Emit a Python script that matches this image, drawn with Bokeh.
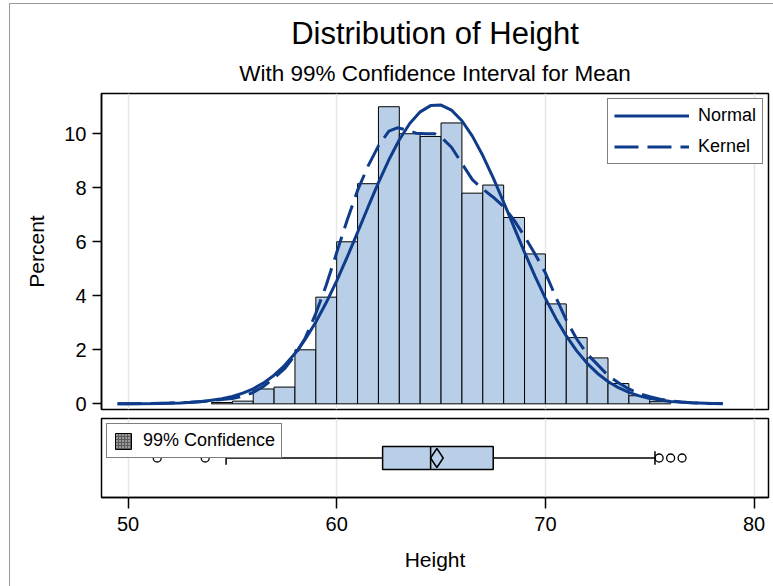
from bokeh.plotting import figure
from bokeh.layouts import column
from bokeh.models import (Title, Legend, LegendItem, Range1d, FixedTicker, Grid)
from bokeh.embed import file_html
from bokeh.resources import INLINE

FONT = "Liberation Sans"
CURVE = "#0E3C8A"
BAR_FILL = "#B9CFE7"

# ---------------- data ----------------
bin_left = [54, 55, 56, 57, 58, 59, 60, 61, 62, 63, 64, 65, 66, 67, 68, 69, 70, 71, 72, 73, 74, 75]
bin_pct = [0.05, 0.1, 0.55, 0.62, 2.0, 3.95, 6.0, 8.15, 11.0, 10.0, 9.9, 10.4,
           7.8, 8.1, 6.9, 5.55, 3.7, 2.45, 1.7, 0.75, 0.3, 0.08]
bin_width = 1

normal_x = [49.5, 50.5, 51.5, 52.5, 53.5, 54.5, 55, 55.5, 56, 56.5, 57, 57.5, 58, 58.5,
            59, 59.5, 60, 60.5, 61, 61.5, 62, 62.5, 63, 63.5, 64, 64.5, 65, 65.5, 66,
            66.5, 67, 67.5, 68, 68.5, 69, 69.5, 70, 70.5, 71, 71.5, 72, 72.5, 73, 73.5,
            74, 74.5, 75, 76, 77, 78, 78.5]
normal_y = [0.001, 0.004, 0.012, 0.032, 0.08, 0.185, 0.272, 0.394, 0.558, 0.776, 1.06,
            1.418, 1.861, 2.397, 3.026, 3.749, 4.555, 5.429, 6.348, 7.28, 8.188, 9.035,
            9.778, 10.381, 10.81, 11.042, 11.063, 10.873, 10.482, 9.911, 9.193, 8.363,
            7.464, 6.534, 5.61, 4.725, 3.904, 3.163, 2.514, 1.96, 1.5, 1.125, 0.828,
            0.597, 0.423, 0.294, 0.2, 0.088, 0.036, 0.013, 0.008]

kernel_x = [49.5, 50, 51, 52, 53, 54, 55, 55.5, 56, 56.5, 57, 57.5, 58, 58.5, 59, 59.5,
            60, 60.5, 61, 61.5, 62, 62.5, 62.9, 63.3, 63.8, 64.3, 64.7, 65.1, 65.5, 66,
            66.5, 67, 67.5, 68, 68.5, 69, 69.5, 70, 70.5, 71, 71.5, 72, 72.5, 73, 73.5,
            74, 74.5, 75, 75.5, 76, 76.5, 77, 77.5, 78, 78.5]
kernel_y = [0.0, 0.005, 0.015, 0.03, 0.06, 0.12, 0.2, 0.28, 0.42, 0.65, 0.95, 1.3, 1.8,
            2.45, 3.35, 4.4, 5.6, 6.8, 7.9, 8.8, 9.55, 10.1, 10.22, 10.15, 10.02, 10.0,
            10.0, 9.8, 9.5, 8.9, 8.3, 7.95, 7.65, 7.3, 6.8, 6.2, 5.55, 4.85, 3.95, 3.1,
            2.4, 1.85, 1.45, 1.05, 0.78, 0.55, 0.38, 0.26, 0.17, 0.11, 0.07, 0.04, 0.02,
            0.01, 0.0]

box_q1 = 62.2
box_median = 64.5
box_q3 = 67.5
box_mean = 64.8
whisker_lo = 54.7
whisker_hi = 75.25
outliers = [51.4, 53.7, 75.45, 76.0, 76.55]
ci_lower = 64.5
ci_upper = 65.1

x_ticks = [50, 60, 70, 80]
y_ticks = [0, 2, 4, 6, 8, 10]

title_text = "Distribution of Height"
subtitle_text = "With 99% Confidence Interval for Mean"

# ---------------- layout constants ----------------
X_RANGE = Range1d(48.73, 80.69)
BOX_HALF = 0.29
CAP_HALF = 0.17

# ---------------- top panel: histogram ----------------
p1 = figure(width=763, height=413, x_range=X_RANGE, y_range=Range1d(-0.21, 11.49),
            output_backend="svg", toolbar_location=None, x_axis_location=None,
            title=None,
            min_border_left=91, min_border_right=5, min_border_top=89, min_border_bottom=8)
p1.outline_line_color = "black"
p1.outline_line_width = 1.5
p1.xgrid.visible = False
p1.ygrid.visible = False
p1.add_layout(Grid(dimension=0, ticker=FixedTicker(ticks=x_ticks),
                   grid_line_color="#e6e6e6", grid_line_width=1.5))

p1.add_layout(Title(text=subtitle_text, align="center", text_font=FONT,
                    text_font_size="22.5px", text_font_style="normal",
                    text_color="black", standoff=15), "above")
p1.add_layout(Title(text=title_text, align="center", text_font=FONT,
                    text_font_size="31px", text_font_style="normal",
                    text_color="black", standoff=2), "above")

ya = p1.yaxis[0]
ya.ticker = FixedTicker(ticks=y_ticks)
ya.major_tick_out = 9
ya.major_tick_in = 0
ya.minor_tick_line_color = None
ya.major_tick_line_width = 1.5
ya.axis_line_width = 1.5
ya.major_label_text_font = FONT
ya.major_label_text_font_size = "20px"
ya.major_label_text_color = "black"
ya.major_label_standoff = 6
ya.axis_label = "Percent"
ya.axis_label_text_font = FONT
ya.axis_label_text_font_size = "21px"
ya.axis_label_text_font_style = "normal"
ya.axis_label_text_color = "black"
ya.axis_label_standoff = 13

bin_right = [b + bin_width for b in bin_left]
p1.quad(left=bin_left, right=bin_right, bottom=0, top=bin_pct,
        fill_color=BAR_FILL, line_color="black", line_width=1)

r_norm = p1.line(normal_x, normal_y, line_width=3, line_color=CURVE)
r_kern = p1.line(kernel_x, kernel_y, line_width=3, line_color=CURVE, line_dash="24 9")

leg1 = Legend(items=[LegendItem(label="Normal", renderers=[r_norm]),
                     LegendItem(label="Kernel", renderers=[r_kern])],
              location="top_right", margin=5, padding=6, spacing=10,
              glyph_width=75, glyph_height=21, label_height=21, label_standoff=9,
              label_text_font=FONT, label_text_font_size="18px", label_text_color="black",
              border_line_color="black", border_line_width=1.5,
              background_fill_alpha=1.0)
p1.add_layout(leg1)

# ---------------- bottom panel: box plot ----------------
p2 = figure(width=763, height=169, x_range=X_RANGE, y_range=Range1d(-1, 1),
            output_backend="svg", toolbar_location=None, y_axis_location=None,
            min_border_left=91, min_border_right=5, min_border_top=1, min_border_bottom=89)
p2.outline_line_color = "black"
p2.outline_line_width = 1.5
p2.ygrid.visible = False
p2.xgrid.visible = False
p2.add_layout(Grid(dimension=0, ticker=FixedTicker(ticks=x_ticks),
                   grid_line_color="#e6e6e6", grid_line_width=1.5))

xa = p2.xaxis[0]
xa.ticker = FixedTicker(ticks=x_ticks)
xa.major_tick_out = 11
xa.major_tick_in = 0
xa.minor_tick_line_color = None
xa.major_tick_line_width = 1.5
xa.axis_line_width = 1.5
xa.major_label_text_font = FONT
xa.major_label_text_font_size = "20px"
xa.major_label_text_color = "black"
xa.major_label_standoff = 8
xa.axis_label = "Height"
xa.axis_label_text_font = FONT
xa.axis_label_text_font_size = "21px"
xa.axis_label_text_font_style = "normal"
xa.axis_label_text_color = "black"
xa.axis_label_standoff = 14

r_ci = p2.quad(left=[ci_lower], right=[ci_upper], bottom=[-BOX_HALF], top=[BOX_HALF],
               fill_color="#9a9a9a", hatch_pattern="cross", hatch_color="#5a5a5a",
               hatch_scale=3, hatch_weight=1, line_color="black", line_width=1)

p2.segment(x0=[whisker_lo, box_q3], y0=[0, 0], x1=[box_q1, whisker_hi], y1=[0, 0],
           line_color="black", line_width=1.5)
p2.segment(x0=[whisker_lo, whisker_hi], y0=[-CAP_HALF, -CAP_HALF],
           x1=[whisker_lo, whisker_hi], y1=[CAP_HALF, CAP_HALF],
           line_color="black", line_width=1.5)
p2.quad(left=[box_q1], right=[box_q3], bottom=[-BOX_HALF], top=[BOX_HALF],
        fill_color=BAR_FILL, line_color="black", line_width=1.5)
p2.segment(x0=[box_median], y0=[-BOX_HALF], x1=[box_median], y1=[BOX_HALF],
           line_color="black", line_width=1.5)
p2.scatter([box_mean], [0], marker="diamond", size=19, fill_color=None,
           line_color="black", line_width=1.5)
p2.scatter(outliers, [0] * len(outliers), marker="circle", size=8, fill_color=None,
           line_color="black", line_width=1.3)

leg2 = Legend(items=[LegendItem(label="99% Confidence", renderers=[r_ci])],
              location="top_left", margin=5, padding=6, spacing=0,
              glyph_width=20, glyph_height=20, label_height=21, label_standoff=10,
              label_text_font=FONT, label_text_font_size="18px", label_text_color="black",
              border_line_color="black", border_line_width=1.5,
              background_fill_alpha=1.0)
p2.add_layout(leg2)

layout = column(p1, p2, margin=(3, 0, 0, 9),
                styles={"border-left": "1px solid #999999", "border-top": "1px solid #999999"})

open("out.html", "w").write(file_html(layout, INLINE))
